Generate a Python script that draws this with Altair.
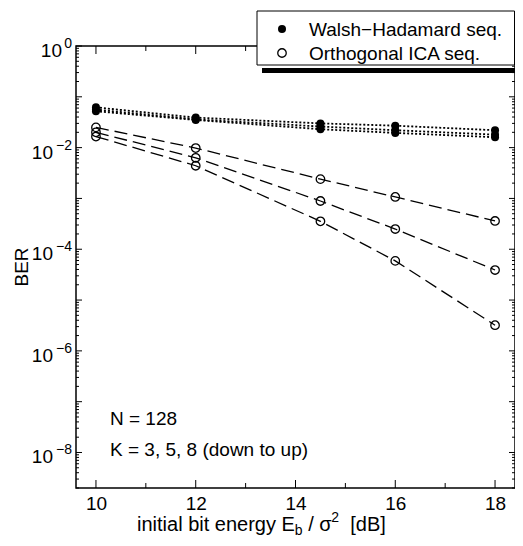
import altair as alt
import pandas as pd

FONT = "Liberation Sans"

# ---------------- data ----------------
ebn0 = [10, 12, 14.5, 16, 18]
k_labels = ["K=3", "K=5", "K=8"]

walsh_k3 = [0.052, 0.035, 0.023, 0.0195, 0.016]
walsh_k5 = [0.056, 0.036, 0.026, 0.022, 0.018]
walsh_k8 = [0.062, 0.039, 0.030, 0.027, 0.022]

ica_k3 = [0.0165, 0.0044, 3.55e-4, 5.9e-5, 3.2e-6]
ica_k5 = [0.020, 0.0063, 8.9e-4, 2.5e-4, 3.9e-5]
ica_k8 = [0.025, 0.0098, 2.4e-3, 1.07e-3, 3.6e-4]

x_major = [10, 12, 14, 16, 18]
x_minor = [11, 13, 15, 17]
y_major_exp = list(range(0, -9, -1))
y_label_exp = [0, -2, -4, -6, -8]
y_minor_mult = [2, 3, 4, 5, 6, 7, 8, 9]

legend_labels = ["Walsh\u2212Hadamard seq.", "Orthogonal ICA seq."]
note_lines = ["N = 128", "K = 3, 5, 8 (down to up)"]

# ---------------- layout ----------------
W, H = 439, 442
xs = alt.Scale(domain=[9.6, 18.4], nice=False, zero=False)
ys = alt.Scale(type="log", domain=[2e-9, 1], nice=False)


def long_df(series):
    rows = []
    for k, vals in zip(k_labels, series):
        for x, v in zip(ebn0, vals):
            rows.append({"x": x, "ber": v, "K": k})
    return pd.DataFrame(rows)


walsh_df = long_df([walsh_k3, walsh_k5, walsh_k8])
ica_df = long_df([ica_k3, ica_k5, ica_k8])

x_axis = alt.Axis(values=x_major, format="d", labelFont=FONT, labelFontSize=19,
                  labelColor="black", labelPadding=6, ticks=False, domain=False,
                  grid=False, title=None)


def X(ax=None):
    if ax is None:
        return alt.X("x:Q", scale=xs)
    return alt.X("x:Q", scale=xs, axis=ax)


def Y():
    return alt.Y("ber:Q", scale=ys, axis=None)


walsh_line = alt.Chart(walsh_df).mark_line(color="black", strokeWidth=1.8, strokeDash=[2, 2]).encode(
    x=X(x_axis), y=Y(), detail="K:N")
ica_line = alt.Chart(ica_df).mark_line(color="black", strokeWidth=1.3, strokeDash=[13, 6]).encode(
    x=X(), y=Y(), detail="K:N")
walsh_pts = alt.Chart(walsh_df).mark_point(shape="circle", filled=True, color="black", size=64, opacity=1).encode(
    x=X(), y=Y())
ica_pts = alt.Chart(ica_df).mark_point(shape="circle", filled=False, color="black", size=72,
                                       strokeWidth=1.3, opacity=1).encode(x=X(), y=Y())

# ---------------- frame ticks (inward) ----------------
y_major = [10.0 ** e for e in y_major_exp]
y_minor = [m * 10.0 ** e for e in range(-9, 0) for m in y_minor_mult if m * 10.0 ** e >= 2e-9]


def hticks(vals, x1, x2):
    return alt.Chart(pd.DataFrame({"ber": vals})).mark_rule(color="black", strokeWidth=1).encode(
        y=Y(), x=alt.value(x1), x2=alt.value(x2))


def vticks(vals, y1, y2):
    return alt.Chart(pd.DataFrame({"x": vals})).mark_rule(color="black", strokeWidth=1).encode(
        x=X(), y=alt.value(y1), y2=alt.value(y2))


ticks = [
    hticks(y_major, 0, 6), hticks(y_minor, 0, 3),
    hticks(y_major, W - 6, W), hticks(y_minor, W - 3, W),
    vticks(x_major, H, H - 8), vticks(x_minor, H, H - 5),
    vticks(x_major, 0, 8), vticks(x_minor, 0, 5),
]

# ---------------- y tick labels 10^k ----------------
ylab_df = pd.DataFrame({
    "ber": [10.0 ** e for e in y_label_exp],
    "e": y_label_exp,
    "exp": [str(e).replace("-", "\u2212") for e in y_label_exp],
})
ten_zero = alt.Chart(ylab_df).transform_filter("datum.e == 0").mark_text(
    text="10", font=FONT, fontSize=19, align="right", baseline="alphabetic", dx=-10, dy=11,
    color="black").encode(y=Y(), x=alt.value(-4))
ten_neg = alt.Chart(ylab_df).transform_filter("datum.e != 0").mark_text(
    text="10", font=FONT, fontSize=19, align="right", baseline="alphabetic", dx=-19, dy=11,
    color="black").encode(y=Y(), x=alt.value(-4))
exps = alt.Chart(ylab_df).mark_text(font=FONT, fontSize=14, align="right", baseline="alphabetic",
                                    dy=2, color="black").encode(y=Y(), x=alt.value(-4), text="exp:N")

one = pd.DataFrame({"a": [0]})


def label(txt, x, y, size=19, **kw):
    return alt.Chart(one).mark_text(text=txt, font=FONT, fontSize=size, align=kw.pop("align", "left"),
                                    baseline=kw.pop("baseline", "alphabetic"), color="black", **kw).encode(
        x=alt.value(x), y=alt.value(y))


# ---------------- axis titles ----------------
ARIAL = {' ': 278, '/': 278, '[': 278, ']': 278, 'd': 556, 'B': 667, 'E': 667, 'b': 556, 'i': 222,
         'n': 556, 't': 278, 'a': 556, 'l': 222, 'e': 556, 'r': 333, 'g': 556, 'y': 500, '2': 556,
         '\u03c3': 600}


def tw(s, size):
    return sum(ARIAL[c] for c in s) / 1000 * size


TF, TS = 20, 14
tbase = 485
# (text, font size, baseline shift, gap in spaces before the piece)
pieces = [("initial bit energy E", TF, 0, 0), ("b", TS, 4, 0), ("/", TF, 0, 1), ("\u03c3", TF, 0, 1),
          ("2", TS, -9, 0), ("[dB]", TF, 0, 2)]
title_layers = []
cx = 61
for txt, sz, off, gap in pieces:
    cx += gap * tw(" ", TF)
    title_layers.append(label(txt, cx, tbase + off, sz))
    cx += tw(txt, sz)

ytitle = label("BER", -54, H / 2, 19, align="center", baseline="middle", angle=270)

notes = [label(note_lines[0], 34, 379), label(note_lines[1], 34, 410)]

# ---------------- legend box ----------------
LX = -6
shadow = alt.Chart(one).mark_rect(color="black").encode(
    x=alt.value(192 + LX), x2=alt.value(W), y=alt.value(22), y2=alt.value(27))
box = alt.Chart(one).mark_rect(fill="white", stroke="black", strokeWidth=1).encode(
    x=alt.value(187 + LX), x2=alt.value(W - 0.5), y=alt.value(-35), y2=alt.value(19))
leg_filled = alt.Chart(one).mark_point(shape="circle", filled=True, color="black", size=64, opacity=1).encode(
    x=alt.value(212 + LX), y=alt.value(-17))
leg_open = alt.Chart(one).mark_point(shape="circle", filled=False, color="black", size=72, strokeWidth=1.3,
                                     opacity=1).encode(x=alt.value(212 + LX), y=alt.value(7))
leg_t1 = label(legend_labels[0], 239 + LX, -10)
leg_t2 = label(legend_labels[1], 239 + LX, 14)

layers = [walsh_line, ica_line, walsh_pts, ica_pts] + ticks + [ten_zero, ten_neg, exps] + title_layers + \
         [ytitle] + notes + [shadow, box, leg_filled, leg_open, leg_t1, leg_t2]

chart = alt.layer(*layers).properties(
    width=W, height=H,
    autosize=alt.AutoSizeParams(type="none"),
    padding={"left": 68, "top": 38, "right": 0, "bottom": 50},
    background="white",
).configure_view(stroke="black", strokeWidth=1.5)

chart.save("out.html", embed_options={"renderer": "svg", "actions": False})
